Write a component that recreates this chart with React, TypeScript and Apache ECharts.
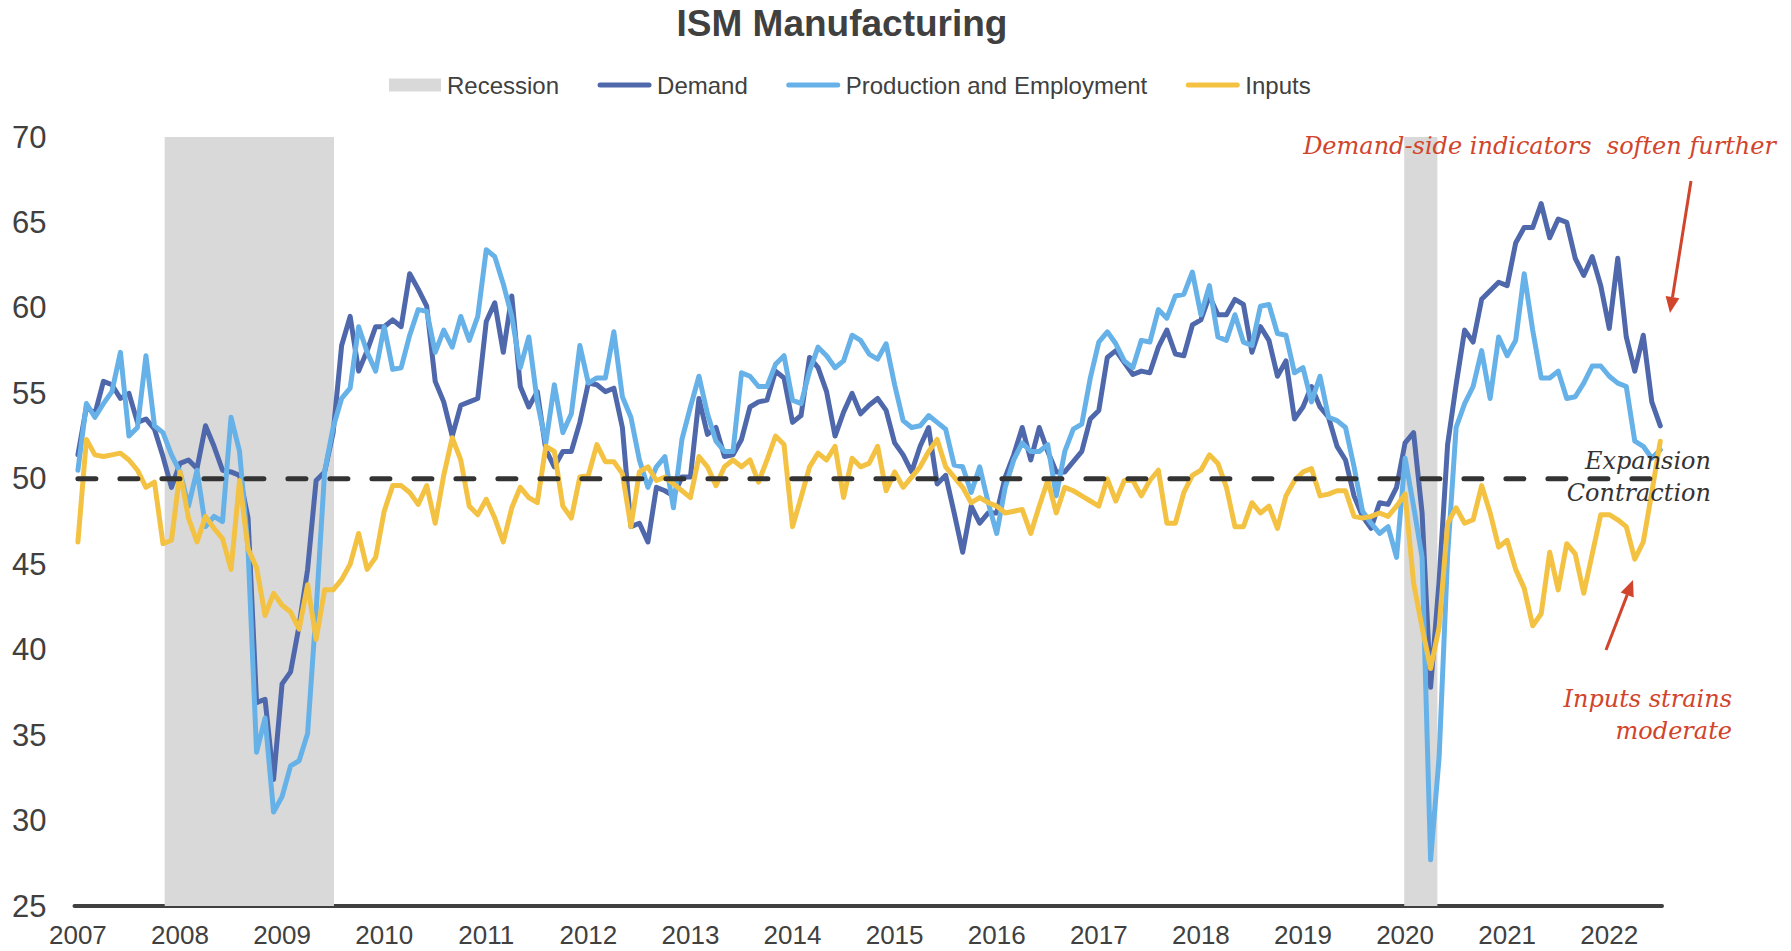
import React, { useEffect, useRef } from "react";
import * as echarts from "echarts";

// Monthly observations, Jan 2007 (index 0) .. Jul 2022 (index 186)
const demand: number[] = [
  51.4, 54.2, 53.8, 55.7, 55.5, 54.7, 55.0, 53.3, 53.5, 52.9, 51.3, 49.5,
  50.9, 51.1, 50.6, 53.1, 51.9, 50.5, 50.4, 50.2, 47.7, 36.9, 37.1, 32.4,
  38.0, 38.7, 41.4, 44.7, 49.9, 50.4, 52.7, 57.8, 59.5, 56.3, 57.5, 58.9,
  58.9, 59.3, 58.9, 62.0, 61.1, 60.1, 55.7, 54.5, 52.5, 54.3, 54.5, 54.7,
  59.2, 60.3, 57.4, 60.7, 55.4, 54.2, 55.1, 51.7, 50.7, 51.6, 51.6, 53.3,
  55.6, 55.5, 55.1, 55.3, 53.0, 47.2, 47.4, 46.3, 49.5, 49.3, 49.0, 50.1,
  50.1, 54.7, 52.6, 53.0, 51.3, 51.4, 52.3, 54.2, 54.5, 54.6, 56.3, 55.9,
  53.3, 53.7, 57.1, 56.5, 55.1, 52.5, 53.9, 55.0, 53.8, 54.3, 54.7, 54.0,
  52.1, 51.4, 50.4, 51.9, 53.0, 49.7, 50.2, 48.0, 45.7, 48.4, 47.4, 48.0,
  48.0, 50.1, 51.4, 53.0, 51.1, 53.0, 51.6, 50.4, 50.4, 51.0, 51.6, 53.5,
  54.0, 57.1, 57.5, 56.8, 56.1, 56.3, 56.2, 57.7, 58.7, 57.3, 57.2, 59.0,
  59.3, 60.7, 59.6, 59.6, 60.5, 60.2, 57.4, 58.9, 58.1, 56.0, 56.9, 53.5,
  54.2, 55.4, 54.2, 53.6, 51.9, 51.1, 49.0, 47.8, 47.1, 48.6, 48.5, 49.5,
  52.1, 52.7, 48.0, 37.8, 44.0, 52.0, 55.5, 58.7, 58.0, 60.5, 61.0, 61.5,
  61.3, 63.8, 64.7, 64.7, 66.1, 64.1, 65.2, 65.0, 62.9, 61.9, 63.0, 61.3,
  58.8, 62.9, 58.3, 56.3, 58.4, 54.5, 53.1,
];

const productionEmployment: number[] = [
  50.5, 54.4, 53.6, 54.4, 55.1, 57.4, 52.5, 53.0, 57.2, 53.1, 52.7, 51.4,
  50.4, 48.4, 50.5, 47.2, 47.8, 47.5, 53.6, 51.6, 45.9, 34.0, 36.0, 30.5,
  31.4, 33.2, 33.5, 35.1, 42.3, 50.4, 53.0, 54.7, 55.3, 58.9, 57.4, 56.3,
  58.9, 56.4, 56.5, 58.4, 59.9, 59.8, 57.4, 58.7, 57.7, 59.5, 58.1, 59.5,
  63.4, 63.0, 61.4, 59.5, 56.5, 58.3, 54.5, 52.1, 55.5, 52.7, 53.8, 57.8,
  55.6, 55.9, 55.9, 58.6, 54.8, 53.6, 51.1, 49.5, 50.7, 51.3, 48.3, 52.3,
  54.2, 56.0, 53.8, 52.2, 51.6, 51.6, 56.2, 56.0, 55.4, 55.4, 56.7, 57.2,
  54.6, 54.4, 56.3, 57.7, 57.2, 56.5, 56.9, 58.4, 58.1, 57.3, 57.0, 57.9,
  55.5, 53.4, 53.0, 53.1, 53.7, 53.3, 52.9, 50.8, 50.7, 49.2, 50.7, 48.6,
  46.8, 49.5, 51.1, 52.1, 51.6, 51.6, 52.0, 49.0, 51.6, 52.9, 53.2, 55.9,
  58.0, 58.6, 57.9, 56.9, 56.5, 58.1, 58.0, 59.9, 59.4, 60.7, 60.8, 62.1,
  59.6, 61.3, 58.3, 58.1, 59.6, 58.0, 57.8, 60.1, 60.2, 58.5, 58.4, 56.2,
  56.5, 54.5, 56.0, 53.6, 53.4, 53.0, 50.7, 48.1, 47.4, 46.8, 47.2, 45.4,
  51.2, 48.4, 45.4, 27.7, 33.7, 45.5, 53.0, 54.4, 55.4, 57.5, 54.7, 58.3,
  57.2, 58.1, 62.0, 58.7, 55.9, 55.9, 56.3, 54.7, 54.8, 55.6, 56.6, 56.6,
  56.0, 55.6, 55.4, 52.2, 51.9, 51.2, 51.7,
];

const inputs: number[] = [
  46.3, 52.3, 51.4, 51.3, 51.4, 51.5, 51.1, 50.5, 49.5, 49.8, 46.2, 46.4,
  50.4, 47.7, 46.3, 47.8, 47.1, 46.5, 44.7, 49.9, 45.9, 44.8, 42.0, 43.3,
  42.6, 42.2, 41.2, 43.8, 40.6, 43.5, 43.5, 44.1, 45.0, 46.8, 44.7, 45.4,
  48.1, 49.6, 49.6, 49.2, 48.5, 49.6, 47.4, 50.2, 52.4, 51.1, 48.4, 47.9,
  48.8, 47.7, 46.3, 48.3, 49.5, 48.9, 48.6, 51.9, 51.6, 48.4, 47.7, 50.1,
  50.2, 52.0, 51.0, 51.0, 50.3, 47.2, 50.4, 50.7, 49.9, 50.1, 49.7, 49.3,
  48.9, 51.3, 50.7, 49.6, 50.7, 51.1, 50.7, 51.1, 49.8, 51.1, 52.5, 52.0,
  47.2, 48.9, 50.7, 51.5, 51.1, 51.9, 48.9, 51.2, 50.7, 50.9, 51.9, 49.3,
  50.4, 49.5, 50.1, 50.7, 51.6, 52.3, 50.7, 50.1, 49.5, 48.6, 48.9, 48.6,
  48.4, 48.0, 48.1, 48.2, 46.8, 48.4, 49.9, 48.0, 49.5, 49.3, 49.0, 48.7,
  48.4, 50.0, 48.7, 49.9, 49.9, 49.0, 49.9, 50.5, 47.4, 47.4, 49.2, 50.2,
  50.5, 51.4, 50.9, 49.5, 47.2, 47.2, 48.6, 48.0, 48.4, 47.1, 49.0, 49.9,
  50.4, 50.6, 49.0, 49.1, 49.3, 49.3, 47.8, 47.7, 47.8, 48.0, 47.8, 48.4,
  49.1, 43.9, 41.3, 38.9, 41.3, 47.4, 48.3, 47.4, 47.6, 49.6, 48.0, 46.0,
  46.4, 44.7, 43.6, 41.4, 42.1, 45.7, 43.5, 46.2, 45.6, 43.3, 45.6, 47.9,
  47.9, 47.6, 47.2, 45.3, 46.3, 49.2, 52.2,
];

const years: number[] = [
  2007, 2008, 2009, 2010, 2011, 2012, 2013, 2014, 2015, 2016, 2017, 2018,
  2019, 2020, 2021, 2022,
];

// Recession shading, in month index units from Jan 2007
const recessions: [number, number][] = [
  [10.2, 30.1],
  [155.9, 159.8],
];

const threshold = 50;

const C_DEMAND = "#4E68AB";
const C_PROD = "#66B2E8";
const C_INPUTS = "#F4C243";
const C_REC = "#D9D9D9";
const C_TEXT = "#404040";
const C_RED = "#D0452B";
const SANS = "'Liberation Sans', Arial, sans-serif";
const SERIF = "'DejaVu Serif', 'Liberation Serif', serif";

const toPairs = (arr: number[]) => arr.map((v, i) => [i, v]);

const rectIcon =
  "path://M0,0 H0.01 V0.01 H0 Z M2,0 H54 V13 H2 Z M54.99,12.99 H55 V13 H54.99 Z";
const lineIcon =
  "path://M0,0 H0.01 V0.01 H0 Z M3,4 H52 A2.5,2.5 0 0 1 52,9 H3 A2.5,2.5 0 0 1 3,4 Z M54.99,12.99 H55 V13 H54.99 Z";

export default function App() {
  const ref = useRef<HTMLDivElement>(null);

  useEffect(() => {
    if (!ref.current) return;
    const chart = echarts.init(ref.current, null, { renderer: "svg" });
    const lastIdx = demand.length - 1;
    const tickPos = years.map((y) => (y - years[0]) * 12);

    const annot = (text: string, x: number, y: number, fill: string) => ({
      type: "text",
      z: 100,
      x,
      y,
      style: {
        text,
        fill,
        font: `italic 24px ${SERIF}`,
        align: "right",
        verticalAlign: "middle",
      },
    });

    const option: any = {
      animation: false,
      backgroundColor: "#ffffff",
      grid: {
        left: 74.5,
        right: 129,
        top: 137,
        bottom: 45,
        containLabel: false,
        outerBoundsMode: "none",
      },
      legend: {
        left: 382,
        top: 68,
        itemWidth: 55,
        itemHeight: 13,
        itemGap: 38,
        selectedMode: false,
        textStyle: { fontSize: 24, color: C_TEXT, fontFamily: SANS },
        data: [
          { name: "Recession", icon: rectIcon, itemStyle: { color: C_REC, borderWidth: 0 } },
          { name: "Demand", icon: lineIcon, itemStyle: { color: C_DEMAND, borderWidth: 0 } },
          {
            name: "Production and Employment",
            icon: lineIcon,
            itemStyle: { color: C_PROD, borderWidth: 0 },
          },
          { name: "Inputs", icon: lineIcon, itemStyle: { color: C_INPUTS, borderWidth: 0 } },
        ],
      },
      xAxis: {
        type: "value",
        min: -0.4,
        max: 186.2,
        splitLine: { show: false },
        axisTick: { show: false },
        axisLine: { show: true, onZero: false, lineStyle: { color: C_TEXT, width: 4 } },
        axisLabel: {
          customValues: tickPos,
          formatter: (v: number) => {
            const i = tickPos.indexOf(Math.round(v));
            return i >= 0 ? String(years[i]) : "";
          },
          fontSize: 26,
          color: C_TEXT,
          fontFamily: SANS,
          margin: 16,
        },
      },
      yAxis: {
        type: "value",
        min: 25,
        max: 70,
        interval: 5,
        splitLine: { show: false },
        axisTick: { show: false },
        axisLine: { show: false },
        axisLabel: { fontSize: 31, color: C_TEXT, fontFamily: SANS, margin: 28 },
      },
      series: [
        {
          name: "Recession",
          type: "line",
          data: [],
          silent: true,
          itemStyle: { color: C_REC },
          markArea: {
            silent: true,
            itemStyle: { color: C_REC },
            data: recessions.map(([a, b]) => [{ xAxis: a }, { xAxis: b }]),
          },
        },
        {
          name: "Demand",
          type: "line",
          data: toPairs(demand),
          showSymbol: false,
          symbol: "none",
          itemStyle: { color: C_DEMAND },
          lineStyle: { color: C_DEMAND, width: 5, cap: "round", join: "round" },
        },
        {
          name: "Production and Employment",
          type: "line",
          data: toPairs(productionEmployment),
          showSymbol: false,
          symbol: "none",
          itemStyle: { color: C_PROD },
          lineStyle: { color: C_PROD, width: 5, cap: "round", join: "round" },
        },
        {
          name: "Inputs",
          type: "line",
          data: toPairs(inputs),
          showSymbol: false,
          symbol: "none",
          itemStyle: { color: C_INPUTS },
          lineStyle: { color: C_INPUTS, width: 5, cap: "round", join: "round" },
        },
        {
          name: "Threshold",
          type: "line",
          z: 3,
          data: [
            [0, threshold],
            [lastIdx, threshold],
          ],
          showSymbol: false,
          symbol: "none",
          silent: true,
          lineStyle: { color: "#333333", width: 5, type: [18, 24], cap: "round" },
        },
      ],
      graphic: [
        {
          type: "text",
          z: 100,
          x: 842,
          y: 23,
          style: {
            text: "ISM Manufacturing",
            fill: C_TEXT,
            font: `bold 37px ${SANS}`,
            align: "center",
            verticalAlign: "middle",
          },
        },
        annot("Demand-side indicators  soften further", 1776, 146, C_RED),
        annot("Expansion", 1711, 461, "#333333"),
        annot("Contraction", 1711, 493, "#333333"),
        annot("Inputs strains", 1732, 699, C_RED),
        annot("moderate", 1732, 731, C_RED),
        {
          type: "line",
          z: 100,
          shape: { x1: 1691, y1: 181, x2: 1672.5, y2: 297.2 },
          style: { stroke: C_RED, lineWidth: 3 },
        },
        {
          type: "polygon",
          z: 100,
          shape: {
            points: [
              [1670, 313],
              [1679.4, 298.3],
              [1665.6, 296.1],
            ],
          },
          style: { fill: C_RED },
        },
        {
          type: "line",
          z: 100,
          shape: { x1: 1606, y1: 650, x2: 1627.2, y2: 594.9 },
          style: { stroke: C_RED, lineWidth: 3 },
        },
        {
          type: "polygon",
          z: 100,
          shape: {
            points: [
              [1633, 580],
              [1633.7, 597.4],
              [1620.7, 592.4],
            ],
          },
          style: { fill: C_RED },
        },
      ],
    };

    chart.setOption(option);
    return () => chart.dispose();
  }, []);

  return (
    <div
      ref={ref}
      style={{
        position: "fixed",
        left: 0,
        top: 0,
        width: "1791px",
        height: "951px",
        background: "#ffffff",
      }}
    />
  );
}
